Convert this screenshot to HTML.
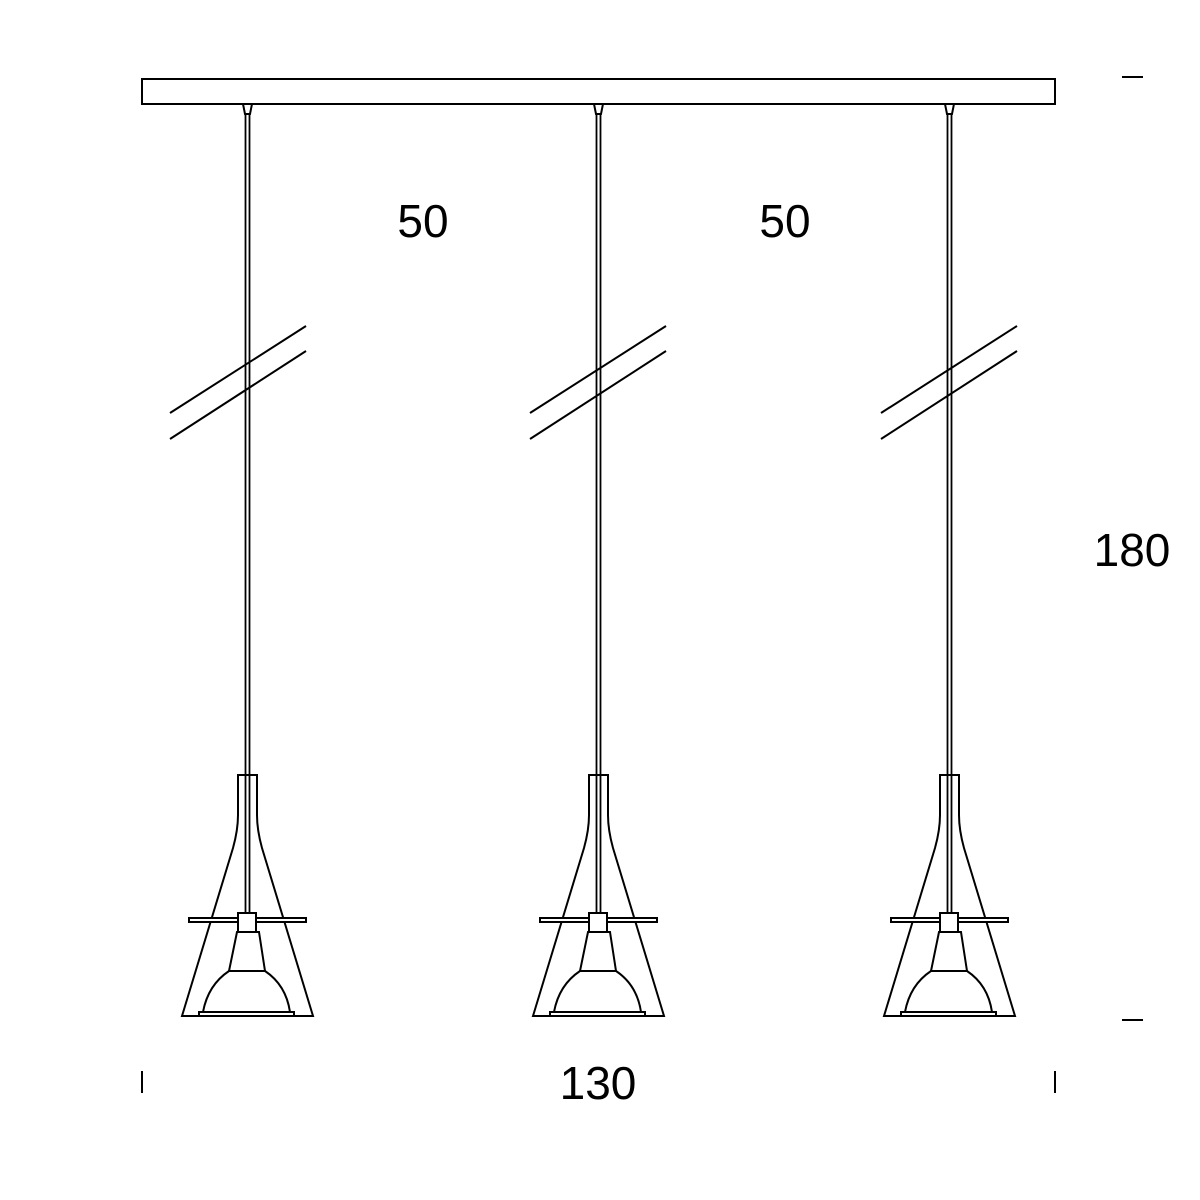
<!DOCTYPE html>
<html><head><style>
html,body{margin:0;padding:0;background:#fff;}
svg{display:block}
text{font-family:"Liberation Sans","DejaVu Sans",sans-serif;font-size:46px;fill:#000;text-anchor:middle}
</style></head><body>
<svg width="1200" height="1200" viewBox="0 0 1200 1200" xmlns="http://www.w3.org/2000/svg">
<defs>
<g id="lamp" fill="#fff" stroke="#000" stroke-width="2">
  <path d="M243,104 L252,104 L250,114 L245,114 Z"/>
  <line x1="245.5" y1="114" x2="245.5" y2="913" stroke-width="1.8"/>
  <line x1="249.5" y1="114" x2="249.5" y2="913" stroke-width="1.8"/>
  <path d="M182,1016 L233,848 Q238,830 238,815 L238,775 L257,775 L257,815 Q257,830 262,848 L313,1016 Z" fill="none"/>
  <rect x="189" y="918" width="117" height="4"/>
  <rect x="238" y="913" width="18" height="19"/>
  <path d="M237,932 L259,932 L265,971 L229,971 Z"/>
  <path d="M229,971 L265,971 Q286,985 290,1012 L203,1012 Q208,985 229,971 Z"/>
  <rect x="199" y="1012" width="95" height="4"/>
</g>
<g id="slash" stroke="#000" stroke-width="2">
  <line x1="170" y1="413" x2="306" y2="326"/>
  <line x1="170" y1="439" x2="306" y2="351"/>
</g>
</defs>
<rect x="142" y="79" width="913" height="25" fill="#fff" stroke="#000" stroke-width="2"/>
<use href="#lamp"/>
<use href="#lamp" transform="translate(351,0)"/>
<use href="#lamp" transform="translate(702,0)"/>
<use href="#slash"/>
<use href="#slash" transform="translate(360,0)"/>
<use href="#slash" transform="translate(711,0)"/>
<g stroke="#000" stroke-width="2">
<line x1="1122" y1="77" x2="1143" y2="77"/>
<line x1="1122" y1="1020" x2="1143" y2="1020"/>
<line x1="142" y1="1071" x2="142" y2="1093"/>
<line x1="1055" y1="1071" x2="1055" y2="1093"/>
</g>
<text x="423" y="237">50</text>
<text x="785" y="237">50</text>
<text x="1132" y="566">180</text>
<text x="598" y="1099">130</text>
</svg>
</body></html>
